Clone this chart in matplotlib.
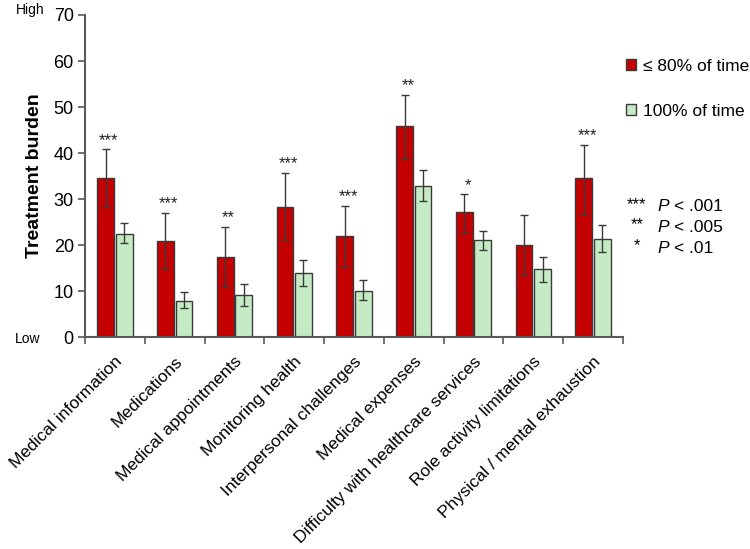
import matplotlib
matplotlib.use("Agg")
import matplotlib.pyplot as plt
from matplotlib.patches import Patch
import numpy as np

plt.rcParams['font.family'] = ['Liberation Sans', 'DejaVu Sans']

# ---------------- DATA ----------------
categories = ["Medical information", "Medications", "Medical appointments",
              "Monitoring health", "Interpersonal challenges", "Medical expenses",
              "Difficulty with healthcare services", "Role activity limitations",
              "Physical / mental exhaustion"]

low_vals = [34.5, 20.8, 17.4, 28.3, 21.9, 45.8, 27.1, 20.1, 34.5]
low_err_hi = [40.8, 27.0, 24.0, 35.7, 28.5, 52.6, 31.0, 26.5, 41.7]
low_err_lo = [28.2, 14.7, 10.9, 21.0, 15.2, 38.7, 22.6, 13.4, 26.8]

full_vals = [22.3, 7.9, 9.2, 13.9, 10.1, 32.9, 21.0, 14.7, 21.3]
full_err_hi = [24.7, 9.7, 11.5, 16.8, 12.3, 36.3, 23.1, 17.3, 24.3]
full_err_lo = [20.4, 6.3, 6.8, 11.2, 8.0, 29.5, 18.9, 12.0, 18.5]

stars = ["***", "***", "**", "***", "***", "**", "*", "", "***"]

legend_labels = ["\u2264 80% of time", "100% of time"]
sig_marks = ["***", "**", "*"]
sig_levels = ["< .001", "< .005", "< .01"]

RED = "#C40000"
GREEN = "#C4EBC4"
EDGE = "#3a3a3a"
AXC = "#5a5a5a"

# ---------------- FIGURE ----------------
fig = plt.figure(figsize=(7.5, 5.49), dpi=100)
ax = fig.add_axes([0.1133, 0.386, 0.7174, 0.5867])

x = np.arange(len(categories))
w = 0.28
low_vals = np.array(low_vals)
full_vals = np.array(full_vals)
low_yerr = [low_vals - np.array(low_err_lo), np.array(low_err_hi) - low_vals]
full_yerr = [full_vals - np.array(full_err_lo), np.array(full_err_hi) - full_vals]

ekw = dict(ecolor=EDGE, elinewidth=1.0, capsize=3, capthick=1.0)
ax.bar(x - 0.155, low_vals, w, color=RED, edgecolor=EDGE, linewidth=1.0,
       yerr=low_yerr, error_kw=ekw, zorder=2)
ax.bar(x + 0.155, full_vals, w, color=GREEN, edgecolor=EDGE, linewidth=1.0,
       yerr=full_yerr, error_kw=ekw, zorder=2)

# ---------------- STARS ----------------
for i, s in enumerate(stars):
    if s:
        ax.text(x[i] - 0.1, low_err_hi[i] + 1.0, s, ha='center', va='baseline',
                fontsize=12, color="#222222")

# ---------------- AXES STYLE ----------------
ax.set_xlim(-0.5, len(categories) - 0.5)
ax.set_ylim(0, 70)
ax.set_yticks(np.arange(0, 71, 10))
ax.tick_params(axis='y', labelsize=13, length=5, color=AXC, width=1.2, pad=3)
ax.set_xticks(np.arange(len(categories) + 1) - 0.5)
ax.set_xticklabels([])
ax.tick_params(axis='x', which='major', length=5, color=AXC, width=1.2)
ax.set_xticks(x, minor=True)
ax.set_xticklabels(categories, minor=True, rotation=45, ha='right', va='top',
                   rotation_mode='anchor', fontsize=12.5)
ax.tick_params(axis='x', which='minor', length=0, pad=12)

for side in ['top', 'right']:
    ax.spines[side].set_visible(False)
for side in ['left', 'bottom']:
    ax.spines[side].set_color(AXC)
    ax.spines[side].set_linewidth(1.5)

ax.set_ylabel("Treatment burden", fontsize=14, fontweight='bold', labelpad=8)

fig.text(0.04, 0.982, "High", fontsize=10, ha='center', va='center')
fig.text(0.037, 0.382, "Low", fontsize=10, ha='center', va='center')

# ---------------- LEGEND ----------------
handles = [Patch(facecolor=RED, edgecolor=EDGE), Patch(facecolor=GREEN, edgecolor=EDGE)]
fig.legend(handles, legend_labels, loc='upper left', bbox_to_anchor=(0.825, 0.905),
           frameon=False, fontsize=12.5, handlelength=0.6, handleheight=0.6,
           handletextpad=0.4, labelspacing=1.7, borderaxespad=0)

# ---------------- SIGNIFICANCE KEY ----------------
for k, (m, lv) in enumerate(zip(sig_marks, sig_levels)):
    yy = 0.624 - k * 0.038
    fig.text(0.849, yy + 0.004, m, fontsize=12, ha='center', va='center')
    fig.text(0.877, yy, "P", fontsize=12.5, style='italic', ha='left', va='center')
    fig.text(0.898, yy, lv, fontsize=12.5, ha='left', va='center')

fig.savefig("out.png", dpi=100)
